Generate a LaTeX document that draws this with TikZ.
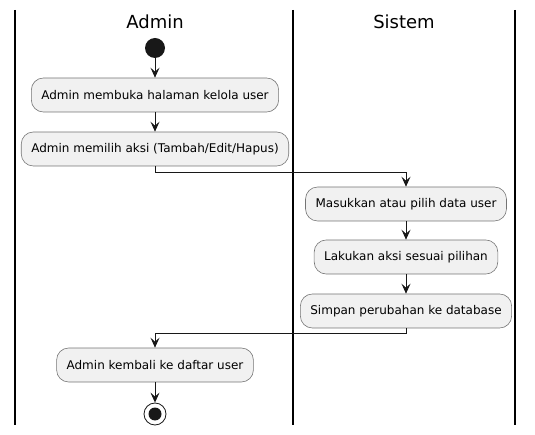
\documentclass[tikz,border=0pt]{standalone}
\usepackage{fontspec}
\setmainfont{DejaVu Sans}
\usetikzlibrary{arrows.meta}
\definecolor{actfill}{HTML}{F1F1F1}
\definecolor{actline}{HTML}{181818}

\begin{document}
\begin{tikzpicture}[x=1pt, y=-1pt, font=\fontsize{12}{14}\selectfont,
    lane/.style={line width=1.3pt, black},
    lanetitle/.style={font=\fontsize{18}{21}\selectfont},
    act/.style={draw=actline!60, line width=0.6pt, fill=actfill, rounded corners=12pt,
        minimum height=34pt, inner xsep=10pt},
    startdot/.style={circle, fill=actline, minimum size=20pt, inner sep=0pt},
    stopdot/.style={circle, draw=actline, line width=0.8pt, fill=white, minimum size=22pt, inner sep=0pt,
        path picture={\fill[actline] (path picture bounding box.center) circle (6.5pt);}},
    flow/.style={line width=0.9pt, actline, -{Stealth[length=10pt, width=9pt, inset=4pt]}}]
    \useasboundingbox (0,0) rectangle (535,435);
    % swimlanes
    \draw [lane] (15,10) -- (15,425);
    \draw [lane] (293,10) -- (293,425);
    \draw [lane] (515,10) -- (515,425);
    \node [lanetitle] (admin) at (155,22) {Admin};
    \node [lanetitle] (sistem) at (404,22) {Sistem};
    % admin lane
    \node [startdot] (start) at (155,48) {};
    \node [act] (a1) at (155,95) {Admin membuka halaman kelola user};
    \node [act] (a2) at (155,149) {Admin memilih aksi (Tambah/Edit/Hapus)};
    % sistem lane
    \node [act] (s1) at (406,204) {Masukkan atau pilih data user};
    \node [act] (s2) at (406,257) {Lakukan aksi sesuai pilihan};
    \node [act] (s3) at (406,311) {Simpan perubahan ke database};
    % back to admin
    \node [act] (a3) at (155,365) {Admin kembali ke daftar user};
    \node [stopdot] (stop) at (155,414) {};
    \coordinate (k1) at (155,172);
    \coordinate (k2) at (406,333);
    % flow
    \draw [flow] (start) -- (a1);
    \draw [flow] (a1) -- (a2);
    \draw [flow] (a2) -- (k1) -| (s1);
    \draw [flow] (s1) -- (s2);
    \draw [flow] (s2) -- (s3);
    \draw [flow] (s3) -- (k2) -| (a3);
    \draw [flow] (a3) -- (stop);
\end{tikzpicture}
\end{document}
